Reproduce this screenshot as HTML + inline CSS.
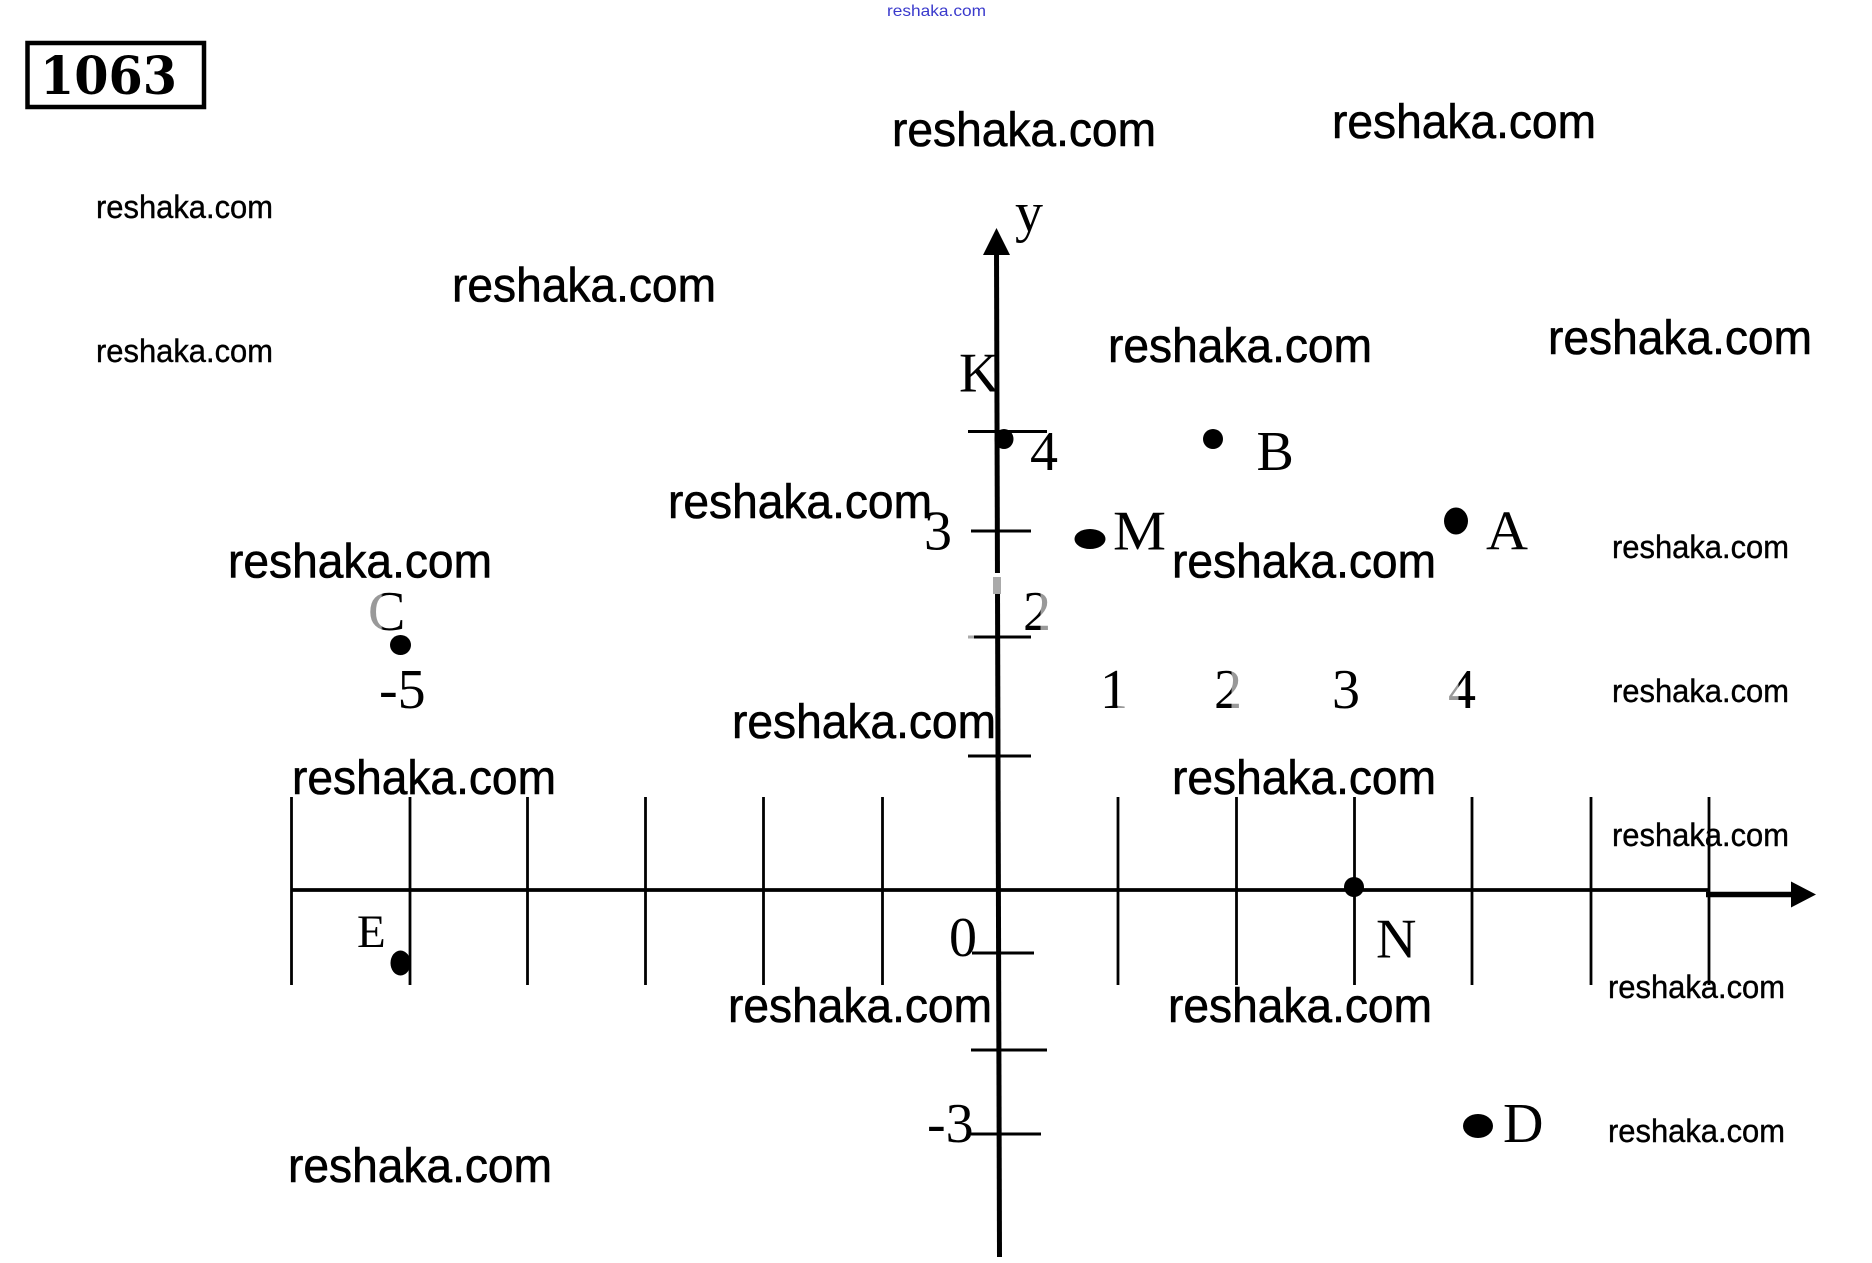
<!DOCTYPE html>
<html>
<head>
<meta charset="utf-8">
<style>
html,body{margin:0;padding:0;background:#fff;width:1872px;height:1263px;overflow:hidden}
svg{display:block}
.w{font-family:"Liberation Sans",sans-serif;font-size:48px;fill:#000;stroke:#000;stroke-width:.6px}
.s{font-family:"Liberation Sans",sans-serif;font-size:32px;fill:#000;stroke:#000;stroke-width:.4px}
.l{font-family:"Liberation Serif",serif;font-size:56px;fill:#000}
</style>
</head>
<body>
<svg width="1872" height="1263" viewBox="0 0 1872 1263" xmlns="http://www.w3.org/2000/svg">
<defs>
<linearGradient id="gl"><stop offset="0.35" stop-color="#999"/><stop offset="0.4" stop-color="#000"/></linearGradient>
<linearGradient id="gr"><stop offset="0.6" stop-color="#000"/><stop offset="0.65" stop-color="#999"/></linearGradient>
</defs>
<rect width="1872" height="1263" fill="#fff"/>

<text x="887" y="16" font-family="Liberation Sans, sans-serif" font-size="16" fill="#3a3acc" textLength="99" lengthAdjust="spacingAndGlyphs">reshaka.com</text>

<rect x="27.5" y="43" width="176.5" height="64" fill="none" stroke="#000" stroke-width="4.5"/>
<text x="40" y="94" font-family="DejaVu Serif, serif" font-weight="bold" font-size="52" fill="#000" textLength="137" lengthAdjust="spacingAndGlyphs">1063</text>

<!-- large watermarks -->
<g>
<text class="w" x="892" y="146" textLength="264" lengthAdjust="spacingAndGlyphs">reshaka.com</text>
<text class="w" x="1332" y="138" textLength="264" lengthAdjust="spacingAndGlyphs">reshaka.com</text>
<text class="w" x="452" y="301.5" textLength="264" lengthAdjust="spacingAndGlyphs">reshaka.com</text>
<text class="w" x="1108" y="362" textLength="264" lengthAdjust="spacingAndGlyphs">reshaka.com</text>
<text class="w" x="1548" y="354" textLength="264" lengthAdjust="spacingAndGlyphs">reshaka.com</text>
<text class="w" x="668" y="518" textLength="264" lengthAdjust="spacingAndGlyphs">reshaka.com</text>
<text class="w" x="228" y="577.5" textLength="264" lengthAdjust="spacingAndGlyphs">reshaka.com</text>
<text class="w" x="1172" y="577.5" textLength="264" lengthAdjust="spacingAndGlyphs">reshaka.com</text>
<text class="w" x="732" y="738" textLength="264" lengthAdjust="spacingAndGlyphs">reshaka.com</text>
<text class="w" x="292" y="794" textLength="264" lengthAdjust="spacingAndGlyphs">reshaka.com</text>
<text class="w" x="1172" y="794" textLength="264" lengthAdjust="spacingAndGlyphs">reshaka.com</text>
<text class="w" x="728" y="1022" textLength="264" lengthAdjust="spacingAndGlyphs">reshaka.com</text>
<text class="w" x="1168" y="1022" textLength="264" lengthAdjust="spacingAndGlyphs">reshaka.com</text>
<text class="w" x="288" y="1182" textLength="264" lengthAdjust="spacingAndGlyphs">reshaka.com</text>
</g>
<!-- small watermarks -->
<g>
<text class="s" x="96" y="218" textLength="177" lengthAdjust="spacingAndGlyphs">reshaka.com</text>
<text class="s" x="96" y="362" textLength="177" lengthAdjust="spacingAndGlyphs">reshaka.com</text>
<text class="s" x="1612" y="558" textLength="177" lengthAdjust="spacingAndGlyphs">reshaka.com</text>
<text class="s" x="1612" y="702" textLength="177" lengthAdjust="spacingAndGlyphs">reshaka.com</text>
<text class="s" x="1612" y="846" textLength="177" lengthAdjust="spacingAndGlyphs">reshaka.com</text>
<text class="s" x="1608" y="998" textLength="177" lengthAdjust="spacingAndGlyphs">reshaka.com</text>
<text class="s" x="1608" y="1142" textLength="177" lengthAdjust="spacingAndGlyphs">reshaka.com</text>
</g>

<!-- x axis -->
<line x1="291" y1="890" x2="1709" y2="890" stroke="#000" stroke-width="3.8"/>
<line x1="1706" y1="894.5" x2="1795" y2="894.5" stroke="#000" stroke-width="5.5"/>
<polygon points="1791,881.5 1816,894.5 1791,907.5" fill="#000"/>
<!-- vertical ticks -->
<g stroke="#000" stroke-width="2.8">
<line x1="291.5" y1="797" x2="291.5" y2="985"/>
<line x1="410" y1="797" x2="410" y2="985"/>
<line x1="527.5" y1="797" x2="527.5" y2="985"/>
<line x1="645.5" y1="797" x2="645.5" y2="985"/>
<line x1="763.5" y1="797" x2="763.5" y2="985"/>
<line x1="882.5" y1="797" x2="882.5" y2="985"/>
<line x1="1118" y1="797" x2="1118" y2="985"/>
<line x1="1236.5" y1="797" x2="1236.5" y2="985"/>
<line x1="1354.5" y1="797" x2="1354.5" y2="985"/>
<line x1="1472" y1="797" x2="1472" y2="985"/>
<line x1="1591" y1="797" x2="1591" y2="985"/>
<line x1="1709" y1="797" x2="1709" y2="985"/>
</g>

<!-- y axis -->
<line x1="996.5" y1="250" x2="999.5" y2="1257" stroke="#000" stroke-width="5"/>
<polygon points="996.5,228 983,255 1010,255" fill="#000"/>
<rect x="993" y="573" width="8" height="4" fill="#fff"/>
<rect x="993" y="577" width="8" height="17" fill="#aaa"/>
<!-- horizontal ticks -->
<g stroke="#000" stroke-width="3">
<line x1="968" y1="431.5" x2="1047" y2="431.5"/>
<line x1="971" y1="531" x2="1031" y2="531"/>
<line x1="974" y1="637" x2="1031" y2="637"/>
<line x1="968" y1="756" x2="1031" y2="756"/>
<line x1="972" y1="953" x2="1034" y2="953"/>
<line x1="971" y1="1050" x2="1047" y2="1050"/>
<line x1="971" y1="1134" x2="1041" y2="1134"/>
</g>
<line x1="968" y1="637" x2="974" y2="637" stroke="#aaa" stroke-width="3"/>

<!-- dots -->
<g fill="#000">
<ellipse cx="1004" cy="439" rx="9.5" ry="10"/>
<ellipse cx="1213" cy="439" rx="10" ry="10"/>
<ellipse cx="1090" cy="539" rx="15.5" ry="10"/>
<ellipse cx="1456" cy="521" rx="12" ry="13.5"/>
<ellipse cx="400.5" cy="645" rx="10.5" ry="10"/>
<ellipse cx="400.5" cy="963" rx="10" ry="12.5"/>
<ellipse cx="1354" cy="887" rx="10" ry="10"/>
<ellipse cx="1478" cy="1126" rx="15" ry="12"/>
</g>

<!-- labels -->
<text class="l" x="1015" y="231">y</text>
<text class="l" x="959" y="391.5">K</text>
<text class="l" x="1030" y="470">4</text>
<text class="l" x="1256.5" y="470">B</text>
<text class="l" x="924" y="549.5">3</text>
<text class="l" x="1113" y="549.5" textLength="53" lengthAdjust="spacingAndGlyphs">M</text>
<text class="l" x="1486" y="549.5" textLength="42" lengthAdjust="spacingAndGlyphs">A</text>
<text class="l" x="1023" y="630" style="fill:url(#gr)">2</text>
<text class="l" x="1100" y="708" style="fill:url(#gr)">1</text>
<text class="l" x="1214" y="708" style="fill:url(#gr)">2</text>
<text class="l" x="1332" y="708">3</text>
<text class="l" x="1448" y="708" style="fill:url(#gl)">4</text>
<text class="l" x="368" y="630" style="fill:url(#gl)">C</text>
<text class="l" x="379" y="708">-5</text>
<text class="l" x="357" y="947" style="font-size:47px">E</text>
<text class="l" x="949" y="956">0</text>
<text class="l" x="1376" y="957.5">N</text>
<text class="l" x="927" y="1142">-3</text>
<text class="l" x="1503" y="1142">D</text>
</svg>
</body>
</html>
